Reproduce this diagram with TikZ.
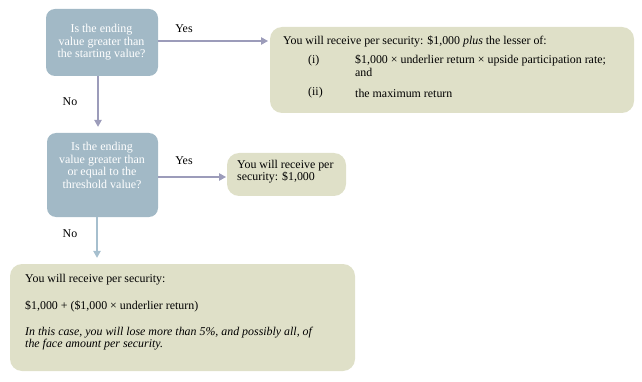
\documentclass[tikz,border=0pt]{standalone}
\usepackage{fontspec}
\setmainfont{Liberation Serif}
\usetikzlibrary{arrows.meta}
\definecolor{qblue}{HTML}{A2B9C6}
\definecolor{ansgreen}{HTML}{DFE0C8}
\definecolor{arrpurple}{HTML}{9C9CBA}
\definecolor{arrblue}{HTML}{A6BFCE}
\tikzset{
  qbox/.style={draw=none, fill=qblue, rounded corners=9pt, inner sep=0pt},
  abox/.style={draw=none, fill=ansgreen, rounded corners=12pt, inner sep=0pt},
  qtext/.style={text=white, align=center, inner sep=0pt, font=\fontsize{12}{12.5}\selectfont},
  atext/.style={text=black, align=left, inner sep=0pt, font=\fontsize{11.9}{12.5}\selectfont},
  lbl/.style={text=black, inner sep=0pt, font=\fontsize{11.9}{12.5}\selectfont},
  conn/.style={draw=arrpurple, line width=1.2pt, -{Triangle[length=7pt,width=7.5pt]}},
}
\begin{document}
\begin{tikzpicture}[x=1pt,y=-1pt]
\useasboundingbox (0,0) rectangle (642,382);
% boxes
\node[qbox, minimum width=112pt, minimum height=67pt] (q1) at (102,42.5) {};
\node[qbox, minimum width=111pt, minimum height=84pt] (q2) at (102.5,175) {};
\node[abox, minimum width=364pt, minimum height=86pt] (a1) at (452,70) {};
\node[abox, minimum width=119pt, minimum height=43pt] (a2) at (286.5,174.5) {};
\node[abox, minimum width=345pt, minimum height=107pt] (a3) at (182.5,317.5) {};
% question texts
\node[qtext] (q1t) at (101.5,42.5) {Is the ending\\value greater than\\the starting value?};
\node[qtext] (q2t) at (102,165.5) {Is the ending\\value greater than\\or equal to the\\threshold value?};
% answer 1 texts
\node[atext, anchor=west] (a1l1) at (283,41) {You will receive per security: \$1,000 \textit{plus} the lesser of:};
\node[atext, anchor=west] (a1i) at (308,61) {(i)};
\node[atext, anchor=north west] (a1it) at (355,55) {\$1,000 × underlier return × upside participation rate;\\and};
\node[atext, anchor=west] (a1ii) at (308,93) {(ii)};
\node[atext, anchor=west] (a1iit) at (355,93) {the maximum return};
% answer 2 text
\node[atext, anchor=west] (a2t) at (237,171.5) {You will receive per\\security: \$1,000};
% answer 3 texts
\node[atext, anchor=west] (a3l1) at (25,280) {You will receive per security:};
\node[atext, anchor=west] (a3l2) at (25,306) {\$1,000 + (\$1,000 × underlier return)};
\node[atext, anchor=west] (a3l3) at (25,338.5) {\textit{In this case, you will lose more than 5\%, and possibly all, of}\\\textit{the face amount per security.}};
% connectors
\coordinate (e1) at (268,41);
\coordinate (e2) at (226,177);
\draw[conn] (q1.south -| 98,0) -- ([yshift=6pt]q2.north -| 98,0);
\draw[conn] (q1.east |- e1) -- (e1);
\draw[conn] (q2.east |- e2) -- (e2);
\draw[conn, draw=arrblue] (q2.south -| 97,0) -- ([yshift=6pt]a3.north -| 97,0);
% labels
\node[lbl] (y1) at (184,29) {Yes};
\node[lbl] (n1) at (70,102) {No};
\node[lbl] (y2) at (184,161) {Yes};
\node[lbl] (n2) at (70,234) {No};
\end{tikzpicture}
\end{document}
